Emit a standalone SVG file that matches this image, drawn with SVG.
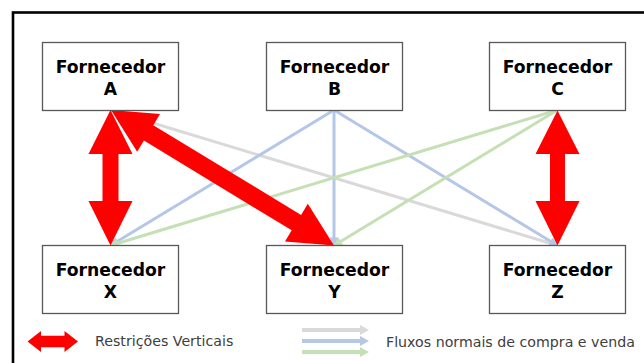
<svg xmlns="http://www.w3.org/2000/svg" width="644" height="363" viewBox="0 0 644 363">
<style>
.box{fill:#fff;stroke:#595959;stroke-width:1.3}
.lbl{font-family:"DejaVu Sans",Verdana,sans-serif;font-weight:bold;font-size:17.2px;fill:#000;text-anchor:middle}
.leg{font-family:"DejaVu Sans",Verdana,sans-serif;font-size:14.2px;fill:#404040}
.gray{stroke:#d9d9d9;stroke-width:3;fill:none}
.blue{stroke:#b4c7e7;stroke-width:3;fill:none}
.green{stroke:#c5e0b4;stroke-width:3;fill:none}
.red{fill:#ff0000}
</style>
<defs>
<marker id="mg" viewBox="0 0 10 10" refX="9" refY="5" markerWidth="3" markerHeight="3" orient="auto" markerUnits="strokeWidth"><path d="M0,0 L10,5 L0,10 z" fill="#d9d9d9"/></marker>
<marker id="mb" viewBox="0 0 10 10" refX="9" refY="5" markerWidth="3" markerHeight="3" orient="auto" markerUnits="strokeWidth"><path d="M0,0 L10,5 L0,10 z" fill="#b4c7e7"/></marker>
<marker id="mgr" viewBox="0 0 10 10" refX="9" refY="5" markerWidth="3" markerHeight="3" orient="auto" markerUnits="strokeWidth"><path d="M0,0 L10,5 L0,10 z" fill="#c5e0b4"/></marker>
</defs>
<rect x="0" y="0" width="644" height="363" fill="#fff"/>
<rect x="13" y="12.5" width="700" height="420" fill="none" stroke="#000" stroke-width="2.6"/>

<g id="connectors">
<line class="gray" x1="110" y1="110" x2="557.5" y2="245.5" marker-end="url(#mg)"/>
<line class="blue" x1="334" y1="110" x2="110.5" y2="245.5" marker-end="url(#mb)"/>
<line class="blue" x1="334" y1="110" x2="334" y2="245.5" marker-end="url(#mb)"/>
<line class="blue" x1="334" y1="110" x2="557.5" y2="245.5" marker-end="url(#mb)"/>
<line class="green" x1="557.5" y1="110" x2="110.5" y2="245.5" marker-end="url(#mgr)"/>
<line class="green" x1="557.5" y1="110" x2="334" y2="245.5" marker-end="url(#mgr)"/>
<polygon class="red" points="110.5,110 132.5,154 118.5,154 118.5,201 132.5,201 110.5,245.5 88.5,201 102.5,201 102.5,154 88.5,154"/>
<polygon class="red" points="557.5,110.5 579.5,154 565,154 565,201 579.5,201 557.5,245.5 535.5,201 550,201 550,154 535.5,154"/>
<polygon class="red" points="111,110 160.02,114.05 153.27,125.16 301.07,214.96 307.82,203.85 334,245.5 284.98,241.45 291.73,230.34 143.93,140.54 137.18,151.65"/>
</g>

<g id="nodeA"><rect class="box" x="42.5" y="42.5" width="136" height="68"/><text class="lbl" x="110.5" y="73">Fornecedor</text><text class="lbl" x="110.5" y="95">A</text></g>
<g id="nodeB"><rect class="box" x="266.5" y="42.5" width="136" height="68"/><text class="lbl" x="334.5" y="73">Fornecedor</text><text class="lbl" x="334.5" y="95">B</text></g>
<g id="nodeC"><rect class="box" x="489.5" y="42.5" width="136" height="68"/><text class="lbl" x="557.5" y="73">Fornecedor</text><text class="lbl" x="557.5" y="95">C</text></g>
<g id="nodeX"><rect class="box" x="42.5" y="245.5" width="136" height="68"/><text class="lbl" x="110.5" y="276">Fornecedor</text><text class="lbl" x="110.5" y="298">X</text></g>
<g id="nodeY"><rect class="box" x="266.5" y="245.5" width="136" height="68"/><text class="lbl" x="334.5" y="276">Fornecedor</text><text class="lbl" x="334.5" y="298">Y</text></g>
<g id="nodeZ"><rect class="box" x="489.5" y="245.5" width="136" height="68"/><text class="lbl" x="557.5" y="276">Fornecedor</text><text class="lbl" x="557.5" y="298">Z</text></g>

<g id="legend">
<polygon class="red" points="27.5,341.5 41,331 41,335.7 64.5,335.7 64.5,331 78,341.5 64.5,352 64.5,347.3 41,347.3 41,352"/>
<text class="leg" x="95" y="346">Restrições Verticais</text>
<line x1="302" y1="330" x2="363" y2="330" stroke="#d9d9d9" stroke-width="4"/>
<polygon points="360,325 369,330 360,335" fill="#d9d9d9"/>
<line x1="302" y1="341" x2="363" y2="341" stroke="#b4c7e7" stroke-width="4"/>
<polygon points="360,336 369,341 360,346" fill="#b4c7e7"/>
<line x1="302" y1="352" x2="363" y2="352" stroke="#c5e0b4" stroke-width="4"/>
<polygon points="360,347 369,352 360,357" fill="#c5e0b4"/>
<text class="leg" x="386" y="346.5">Fluxos normais de compra e venda</text>
</g>
</svg>
